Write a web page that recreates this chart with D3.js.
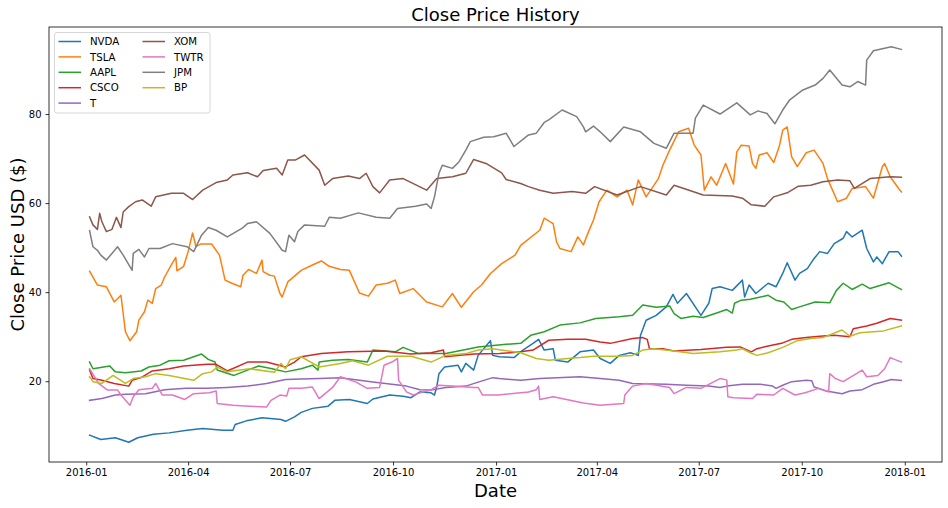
<!DOCTYPE html>
<html>
<head>
<meta charset="utf-8">
<script src="https://cdn.jsdelivr.net/npm/d3@7"></script>
<style>
  html, body { margin: 0; padding: 0; background: #fff; }
  svg { display: block; font-family: "DejaVu Sans", sans-serif; }
</style>
</head>
<body>
<div id="svg-container"></div>
<script>
// ticker names + colours (matplotlib tab10 order)
const tickers = ["NVDA", "TSLA", "AAPL", "CSCO", "T", "XOM", "TWTR", "JPM", "BP"];
const colors = ["#1f77b4", "#ff7f0e", "#2ca02c", "#d62728", "#9467bd", "#8c564b", "#e377c2", "#7f7f7f", "#bcbd22"];
const yTicks = [20, 40, 60, 80];

// close prices: [date, close]
const nvda = [["2016-01-04",7.9],["2016-01-14",6.9],["2016-01-27",7.3],["2016-02-08",6.3],["2016-02-16",7.3],["2016-03-01",8.1],["2016-03-15",8.4],["2016-03-31",9.0],["2016-04-14",9.4],["2016-05-02",9.0],["2016-05-11",9.0],["2016-05-13",10.3],["2016-05-23",11.1],["2016-06-06",11.8],["2016-06-23",11.4],["2016-06-27",11.0],["2016-07-05",12.0],["2016-07-11",13.0],["2016-07-21",13.9],["2016-08-04",14.4],["2016-08-10",15.7],["2016-08-23",15.9],["2016-09-08",15.0],["2016-09-13",16.0],["2016-09-28",16.9],["2016-10-10",16.6],["2016-10-17",16.3],["2016-10-25",17.6],["2016-11-04",17.4],["2016-11-07",16.9],["2016-11-09",18.7],["2016-11-11",21.7],["2016-11-16",23.2],["2016-11-28",23.6],["2016-12-01",22.1],["2016-12-05",24.0],["2016-12-12",22.5],["2016-12-16",25.8],["2016-12-27",29.1],["2016-12-29",25.8],["2017-01-04",25.5],["2017-01-17",25.3],["2017-01-25",27.0],["2017-02-03",28.5],["2017-02-08",29.4],["2017-02-13",27.0],["2017-02-21",27.3],["2017-02-23",24.7],["2017-03-06",24.3],["2017-03-17",26.6],["2017-03-29",27.0],["2017-04-04",25.1],["2017-04-13",24.0],["2017-04-21",25.8],["2017-05-01",26.4],["2017-05-08",25.8],["2017-05-10",30.3],["2017-05-15",33.7],["2017-05-24",34.8],["2017-06-02",36.7],["2017-06-08",39.5],["2017-06-12",37.5],["2017-06-20",39.7],["2017-07-03",34.8],["2017-07-10",37.5],["2017-07-13",40.8],["2017-07-20",41.2],["2017-07-31",40.4],["2017-08-09",42.7],["2017-08-11",38.9],["2017-08-15",41.6],["2017-08-21",39.7],["2017-09-01",42.0],["2017-09-08",41.2],["2017-09-14",44.2],["2017-09-18",46.6],["2017-09-25",42.7],["2017-09-29",44.2],["2017-10-06",45.3],["2017-10-11",47.2],["2017-10-17",49.1],["2017-10-24",48.7],["2017-10-30",50.9],["2017-11-07",52.1],["2017-11-10",53.6],["2017-11-15",52.4],["2017-11-24",53.9],["2017-11-28",49.8],["2017-12-04",46.8],["2017-12-07",47.9],["2017-12-12",46.4],["2017-12-18",49.1],["2017-12-26",49.1],["2017-12-29",48.1]];

const tsla = [["2016-01-04",44.7],["2016-01-07",43.4],["2016-01-11",41.6],["2016-01-19",41.2],["2016-01-26",37.8],["2016-02-01",39.3],["2016-02-03",35.2],["2016-02-05",31.1],["2016-02-09",29.1],["2016-02-15",31.1],["2016-02-17",33.7],["2016-02-22",35.6],["2016-02-25",38.2],["2016-02-29",37.5],["2016-03-03",40.8],["2016-03-08",41.6],["2016-03-11",43.4],["2016-03-17",46.1],["2016-03-21",47.8],["2016-03-22",44.8],["2016-03-28",45.8],["2016-04-01",49.1],["2016-04-05",53.3],["2016-04-08",50.2],["2016-04-12",50.8],["2016-04-22",50.8],["2016-04-29",48.3],["2016-05-04",42.7],["2016-05-09",42.1],["2016-05-18",41.2],["2016-05-20",43.8],["2016-05-25",45.1],["2016-06-01",44.2],["2016-06-06",47.2],["2016-06-07",44.6],["2016-06-13",43.8],["2016-06-17",43.6],["2016-06-22",39.7],["2016-06-24",38.9],["2016-06-29",42.3],["2016-07-05",43.6],["2016-07-11",44.9],["2016-07-21",46.1],["2016-07-29",47.0],["2016-08-05",45.8],["2016-08-15",45.1],["2016-08-23",44.9],["2016-09-01",39.8],["2016-09-09",39.1],["2016-09-16",41.6],["2016-09-26",42.0],["2016-10-03",42.7],["2016-10-07",39.7],["2016-10-19",40.8],["2016-10-31",37.8],["2016-11-14",36.7],["2016-11-23",39.7],["2016-12-01",36.6],["2016-12-12",40.1],["2016-12-19",41.6],["2016-12-27",44.2],["2017-01-06",46.4],["2017-01-18",48.3],["2017-01-23",50.5],["2017-02-09",53.9],["2017-02-13",56.6],["2017-02-21",55.4],["2017-02-24",51.3],["2017-02-27",49.8],["2017-03-09",49.1],["2017-03-15",52.4],["2017-03-20",50.6],["2017-03-24",53.2],["2017-03-29",56.2],["2017-04-03",60.3],["2017-04-10",62.9],["2017-04-19",61.4],["2017-04-28",62.9],["2017-05-03",59.6],["2017-05-08",65.2],["2017-05-15",61.4],["2017-05-26",65.5],["2017-05-30",68.5],["2017-06-05",71.9],["2017-06-13",76.0],["2017-06-22",76.8],["2017-06-27",73.0],["2017-07-03",70.8],["2017-07-06",62.9],["2017-07-12",65.9],["2017-07-17",64.0],["2017-07-25",68.9],["2017-08-01",64.3],["2017-08-04",71.5],["2017-08-08",73.0],["2017-08-15",72.8],["2017-08-18",68.9],["2017-08-21",67.8],["2017-08-24",70.8],["2017-08-31",71.3],["2017-09-06",69.1],["2017-09-11",72.8],["2017-09-14",76.4],["2017-09-18",77.1],["2017-09-22",70.4],["2017-09-27",68.2],["2017-10-05",71.3],["2017-10-12",71.9],["2017-10-20",68.9],["2017-10-24",65.5],["2017-11-02",60.3],["2017-11-10",61.1],["2017-11-15",63.3],["2017-11-27",63.7],["2017-12-04",61.1],["2017-12-12",68.2],["2017-12-14",68.9],["2017-12-19",65.9],["2017-12-27",63.1],["2017-12-29",62.5]];

const aapl = [["2016-01-04",24.3],["2016-01-07",22.8],["2016-01-22",23.4],["2016-01-27",22.1],["2016-02-05",21.9],["2016-02-19",22.3],["2016-02-26",23.2],["2016-03-07",23.6],["2016-03-15",24.6],["2016-03-28",24.7],["2016-04-13",26.1],["2016-04-19",24.9],["2016-04-25",24.3],["2016-04-27",22.5],["2016-05-12",21.3],["2016-05-24",22.5],["2016-06-03",23.4],["2016-06-15",22.8],["2016-06-27",22.1],["2016-07-11",22.8],["2016-07-21",23.6],["2016-07-26",22.5],["2016-07-27",24.3],["2016-08-08",24.7],["2016-08-22",24.9],["2016-09-08",24.3],["2016-09-13",27.0],["2016-10-03",26.6],["2016-10-10",27.6],["2016-10-24",26.2],["2016-11-04",26.2],["2016-11-17",26.2],["2016-12-05",27.1],["2016-12-16",27.7],["2017-01-10",28.3],["2017-01-23",28.5],["2017-02-01",30.3],["2017-02-13",31.1],["2017-02-27",32.6],["2017-03-17",33.1],["2017-03-31",34.1],["2017-04-21",34.5],["2017-05-03",34.8],["2017-05-12",37.1],["2017-05-24",36.6],["2017-06-05",36.9],["2017-06-09",35.2],["2017-06-15",34.1],["2017-06-26",34.6],["2017-07-05",34.3],["2017-07-17",35.3],["2017-07-26",36.1],["2017-07-31",35.3],["2017-08-02",37.5],["2017-08-08",38.2],["2017-08-16",38.4],["2017-09-01",39.3],["2017-09-08",38.2],["2017-09-15",37.8],["2017-09-22",36.1],["2017-09-29",36.7],["2017-10-13",37.8],["2017-10-26",37.6],["2017-11-01",40.4],["2017-11-07",42.0],["2017-11-15",40.6],["2017-11-24",41.8],["2017-12-01",40.8],["2017-12-18",42.1],["2017-12-29",40.6]];

const csco = [["2016-01-04",22.5],["2016-01-07",20.6],["2016-01-15",20.2],["2016-01-26",19.5],["2016-02-08",18.9],["2016-02-11",20.2],["2016-02-19",20.8],["2016-02-29",22.3],["2016-03-15",22.8],["2016-03-28",23.4],["2016-04-18",23.8],["2016-04-26",23.8],["2016-05-06",22.3],["2016-05-24",24.3],["2016-06-10",24.3],["2016-06-27",23.2],["2016-07-05",24.3],["2016-07-11",25.5],["2016-07-29",26.2],["2016-08-22",26.6],["2016-09-23",26.8],["2016-10-17",26.1],["2016-11-04",26.4],["2016-11-15",27.0],["2016-11-16",25.5],["2016-12-12",26.1],["2017-01-04",26.2],["2017-01-23",26.6],["2017-02-03",27.0],["2017-02-17",29.2],["2017-03-06",29.4],["2017-03-22",29.4],["2017-04-04",28.8],["2017-04-13",28.5],["2017-05-03",29.6],["2017-05-12",29.8],["2017-05-16",29.4],["2017-05-18",27.3],["2017-05-30",27.3],["2017-06-09",26.8],["2017-07-03",27.1],["2017-07-26",27.6],["2017-08-07",27.7],["2017-08-17",26.6],["2017-08-22",27.3],["2017-09-01",27.9],["2017-09-14",28.6],["2017-09-22",29.4],["2017-10-05",29.8],["2017-10-17",30.1],["2017-10-30",30.3],["2017-11-13",30.0],["2017-11-16",31.8],["2017-11-28",32.4],["2017-12-07",33.0],["2017-12-19",34.1],["2017-12-29",33.7]];

const t = [["2016-01-04",15.7],["2016-01-15",16.1],["2016-01-27",16.9],["2016-02-05",17.1],["2016-02-23",17.2],["2016-03-11",18.1],["2016-03-30",18.4],["2016-04-18",18.4],["2016-05-06",18.6],["2016-05-24",18.9],["2016-06-10",19.5],["2016-06-27",20.4],["2016-07-11",20.5],["2016-07-27",20.6],["2016-08-15",20.8],["2016-09-13",19.8],["2016-10-13",18.9],["2016-10-25",18.1],["2016-11-04",18.0],["2016-11-17",18.6],["2016-12-05",18.9],["2016-12-16",19.8],["2016-12-29",20.8],["2017-01-04",20.6],["2017-01-23",20.2],["2017-02-09",20.6],["2017-03-17",21.0],["2017-04-04",20.6],["2017-04-21",20.2],["2017-05-03",19.5],["2017-06-02",19.3],["2017-06-20",19.1],["2017-07-10",18.9],["2017-07-20",18.6],["2017-07-26",18.9],["2017-08-09",19.3],["2017-08-25",19.3],["2017-09-05",18.9],["2017-09-08",18.4],["2017-09-14",19.1],["2017-09-22",19.9],["2017-10-05",20.2],["2017-10-10",20.1],["2017-10-12",18.7],["2017-10-23",17.8],["2017-11-06",17.2],["2017-11-13",17.8],["2017-11-24",18.1],["2017-12-04",19.3],["2017-12-13",19.9],["2017-12-20",20.4],["2017-12-29",20.2]];

const xom = [["2016-01-04",56.9],["2016-01-07",55.1],["2016-01-11",54.1],["2016-01-13",57.7],["2016-01-15",55.8],["2016-01-19",53.6],["2016-01-24",54.1],["2016-01-28",56.8],["2016-02-01",54.5],["2016-02-03",58.0],["2016-02-08",59.2],["2016-02-14",60.3],["2016-02-20",60.7],["2016-02-28",59.3],["2016-03-03",61.4],["2016-03-17",62.2],["2016-03-28",62.2],["2016-04-05",60.8],["2016-04-14",62.9],["2016-04-26",64.6],["2016-05-06",65.2],["2016-05-11",66.3],["2016-05-24",66.8],["2016-06-02",65.9],["2016-06-07",67.3],["2016-06-19",67.8],["2016-06-24",66.3],["2016-06-29",69.7],["2016-07-06",69.7],["2016-07-14",70.8],["2016-07-27",67.4],["2016-08-01",64.0],["2016-08-08",65.5],["2016-08-22",66.1],["2016-09-01",65.5],["2016-09-07",66.7],["2016-09-13",63.7],["2016-09-19",62.3],["2016-09-28",65.2],["2016-10-10",65.5],["2016-10-31",62.9],["2016-11-09",65.5],["2016-11-23",65.9],["2016-12-05",66.7],["2016-12-12",69.8],["2016-12-23",68.9],["2017-01-06",66.8],["2017-01-10",65.3],["2017-01-23",64.4],["2017-01-30",63.7],["2017-02-09",62.9],["2017-02-21",62.2],["2017-03-10",62.6],["2017-03-22",62.2],["2017-03-30",63.7],["2017-04-19",61.8],["2017-05-10",63.7],["2017-06-02",61.8],["2017-06-09",64.0],["2017-07-05",61.8],["2017-07-31",61.6],["2017-08-09",61.1],["2017-08-17",59.6],["2017-08-29",59.3],["2017-09-06",61.4],["2017-09-18",62.3],["2017-09-28",63.8],["2017-10-09",64.0],["2017-10-20",64.8],["2017-11-02",65.2],["2017-11-13",65.0],["2017-11-17",63.3],["2017-12-01",65.5],["2017-12-19",65.9],["2017-12-29",65.8]];

const twtr = [["2016-01-04",22.8],["2016-01-12",19.5],["2016-01-20",18.0],["2016-01-29",18.0],["2016-02-01",16.9],["2016-02-09",14.6],["2016-02-12",16.5],["2016-02-17",18.1],["2016-02-29",18.4],["2016-03-03",19.5],["2016-03-09",16.9],["2016-03-18",16.9],["2016-03-29",15.9],["2016-04-06",17.2],["2016-04-20",17.4],["2016-04-26",17.8],["2016-04-27",15.0],["2016-05-11",14.6],["2016-05-26",14.4],["2016-06-10",14.2],["2016-06-14",15.7],["2016-06-22",16.9],["2016-06-28",16.7],["2016-06-30",18.4],["2016-07-11",18.4],["2016-07-21",18.7],["2016-07-27",16.1],["2016-08-08",18.6],["2016-08-15",21.0],["2016-08-29",19.8],["2016-09-08",18.4],["2016-09-19",18.6],["2016-09-23",23.6],["2016-09-30",24.3],["2016-10-05",25.1],["2016-10-06",20.2],["2016-10-13",17.6],["2016-10-19",16.9],["2016-10-28",17.6],["2016-11-04",18.1],["2016-11-11",19.1],["2016-11-23",18.9],["2016-12-12",18.6],["2016-12-16",18.6],["2016-12-20",16.9],["2017-01-03",16.9],["2017-01-30",17.6],["2017-02-06",18.1],["2017-02-08",18.9],["2017-02-09",15.9],["2017-02-21",16.5],["2017-03-20",15.1],["2017-04-04",14.6],["2017-04-25",15.0],["2017-04-26",16.9],["2017-05-03",18.9],["2017-05-15",19.5],["2017-06-05",18.6],["2017-06-09",17.2],["2017-06-20",18.6],["2017-07-03",18.4],["2017-07-20",20.6],["2017-07-26",20.3],["2017-07-27",16.5],["2017-08-01",16.3],["2017-08-18",16.1],["2017-08-22",17.1],["2017-09-06",16.9],["2017-09-14",18.4],["2017-09-25",16.9],["2017-10-04",17.4],["2017-10-16",18.4],["2017-10-25",17.6],["2017-10-26",21.7],["2017-10-31",20.6],["2017-11-07",19.9],["2017-11-24",22.5],["2017-11-28",21.0],["2017-12-08",21.3],["2017-12-14",22.8],["2017-12-19",25.3],["2017-12-29",24.3]];

const jpm = [["2016-01-04",53.8],["2016-01-07",50.2],["2016-01-11",49.4],["2016-01-14",48.3],["2016-01-19",47.2],["2016-01-29",50.2],["2016-02-03",48.3],["2016-02-11",44.9],["2016-02-12",48.7],["2016-02-17",49.6],["2016-02-22",47.9],["2016-02-26",49.8],["2016-03-07",49.8],["2016-03-18",50.9],["2016-03-31",50.2],["2016-04-06",49.1],["2016-04-13",52.8],["2016-04-19",54.5],["2016-04-26",53.9],["2016-05-06",52.4],["2016-05-19",54.3],["2016-05-24",55.4],["2016-06-01",55.8],["2016-06-13",53.2],["2016-06-24",49.4],["2016-06-27",49.1],["2016-06-30",52.8],["2016-07-05",51.3],["2016-07-08",53.6],["2016-07-14",55.1],["2016-08-01",54.8],["2016-08-05",56.8],["2016-08-15",56.6],["2016-08-31",57.8],["2016-09-16",56.8],["2016-09-28",56.6],["2016-10-05",58.8],["2016-10-21",59.3],["2016-10-31",59.8],["2016-11-04",58.8],["2016-11-07",61.4],["2016-11-11",66.7],["2016-11-14",68.5],["2016-11-23",67.8],["2016-11-29",69.3],["2016-12-05",71.9],["2016-12-09",73.8],["2016-12-21",74.8],["2016-12-30",74.9],["2017-01-10",75.7],["2017-01-17",72.7],["2017-01-30",75.3],["2017-02-06",75.7],["2017-02-13",78.1],["2017-02-17",78.7],["2017-03-01",80.9],["2017-03-14",79.4],["2017-03-20",77.1],["2017-03-22",76.0],["2017-03-29",77.3],["2017-04-04",76.0],["2017-04-13",73.8],["2017-04-25",77.1],["2017-05-10",76.0],["2017-05-22",73.4],["2017-06-02",72.3],["2017-06-09",75.7],["2017-06-26",75.7],["2017-06-28",79.1],["2017-07-05",82.0],["2017-07-20",80.0],["2017-08-04",82.5],["2017-08-16",79.8],["2017-08-23",80.7],["2017-08-31",80.1],["2017-09-07",77.8],["2017-09-14",80.9],["2017-09-20",83.1],["2017-10-02",85.4],["2017-10-13",86.5],["2017-10-20",88.0],["2017-10-26",89.9],["2017-11-06",86.5],["2017-11-13",86.1],["2017-11-20",87.3],["2017-11-27",86.5],["2017-11-28",92.1],["2017-12-04",94.2],["2017-12-20",95.1],["2017-12-29",94.5]];

const bp = [["2016-01-04",21.0],["2016-01-07",19.9],["2016-01-15",19.5],["2016-01-25",21.3],["2016-02-05",19.5],["2016-02-12",20.6],["2016-02-23",21.0],["2016-03-03",21.7],["2016-03-15",21.3],["2016-04-06",20.2],["2016-04-14",21.7],["2016-04-22",22.1],["2016-04-27",23.2],["2016-05-06",22.1],["2016-05-26",22.8],["2016-06-17",22.0],["2016-06-23",24.0],["2016-06-27",22.8],["2016-07-01",24.8],["2016-07-11",25.5],["2016-07-27",23.2],["2016-08-15",24.0],["2016-08-26",24.6],["2016-09-09",23.6],["2016-09-26",25.6],["2016-10-17",25.6],["2016-11-04",24.3],["2016-11-17",25.8],["2016-12-05",26.2],["2016-12-16",27.0],["2016-12-29",27.3],["2017-01-23",26.4],["2017-02-06",25.1],["2017-02-17",24.7],["2017-03-06",25.1],["2017-03-17",25.3],["2017-03-29",25.6],["2017-04-21",25.6],["2017-05-03",25.8],["2017-05-12",27.0],["2017-05-22",27.3],["2017-06-09",26.8],["2017-06-26",26.2],["2017-07-20",26.6],["2017-08-04",27.0],["2017-08-09",27.3],["2017-08-16",26.4],["2017-08-22",25.8],["2017-09-01",26.4],["2017-09-14",27.6],["2017-09-27",29.1],["2017-10-09",29.6],["2017-10-20",29.8],["2017-11-02",31.1],["2017-11-06",31.5],["2017-11-13",30.1],["2017-11-22",30.9],["2017-12-13",31.3],["2017-12-29",32.4]];

const seriesValues = [nvda, tsla, aapl, csco, t, xom, twtr, jpm, bp];

////////////////////////////  Init  ///////////////////////////////
const width = 948;
const height = 508;
const margin = { top: 27, right: 6, bottom: 46, left: 49 };

const svg = d3.select("#svg-container").append("svg")
  .attr("width", width)
  .attr("height", height);

const parseTime = d3.timeParse("%Y-%m-%d");
const formatXAxis = d3.timeFormat("%Y-%m");

const series = tickers.map((name, i) => ({
  name: name,
  color: colors[i],
  values: seriesValues[i].map((d) => ({ date: parseTime(d[0]), close: d[1] }))
}));

const allPoints = series.flatMap((s) => s.values);

// matplotlib style 5% margins
const xExt = d3.extent(allPoints, (d) => d.date);
const xPad = (xExt[1] - xExt[0]) * 0.05;
const yExt = d3.extent(allPoints, (d) => d.close);
const yPad = (yExt[1] - yExt[0]) * 0.05;

const xScale = d3.scaleTime()
  .domain([new Date(+xExt[0] - xPad), new Date(+xExt[1] + xPad)])
  .range([margin.left, width - margin.right]);
const yScale = d3.scaleLinear()
  .domain([yExt[0] - yPad, yExt[1] + yPad])
  .range([height - margin.bottom, margin.top]);

// axes
const xAxis = d3.axisBottom(xScale)
  .ticks(d3.timeMonth.every(3))
  .tickFormat(formatXAxis)
  .tickSize(3.5)
  .tickPadding(3.5)
  .tickSizeOuter(0);

const yAxis = d3.axisLeft(yScale)
  .tickValues(yTicks)
  .tickSize(3.5)
  .tickPadding(4)
  .tickSizeOuter(0);

const gx = svg.append("g")
  .attr("class", "x-axis")
  .attr("transform", `translate(0, ${height - margin.bottom})`)
  .call(xAxis);

const gy = svg.append("g")
  .attr("class", "y-axis")
  .attr("transform", `translate(${margin.left},0)`)
  .call(yAxis);

[gx, gy].forEach((g) => {
  g.select(".domain").remove();
  g.attr("font-family", "DejaVu Sans").attr("font-size", 10);
  g.selectAll(".tick line").attr("stroke", "#000").attr("stroke-width", 0.8);
  g.selectAll(".tick text").attr("fill", "#000");
});

// lines
const line = d3.line()
  .x((d) => xScale(d.date))
  .y((d) => yScale(d.close));

svg.append("g")
  .selectAll("path")
  .data(series)
  .join("path")
  .attr("d", (d) => line(d.values))
  .attr("fill", "none")
  .attr("stroke", (d) => d.color)
  .attr("stroke-width", 1.5)
  .attr("stroke-linejoin", "round")
  .attr("stroke-linecap", "square");

// frame
svg.append("rect")
  .attr("x", margin.left)
  .attr("y", margin.top)
  .attr("width", width - margin.left - margin.right)
  .attr("height", height - margin.top - margin.bottom)
  .attr("fill", "none")
  .attr("stroke", "#000")
  .attr("stroke-width", 0.8);

// titles
svg.append("text")
  .attr("x", (margin.left + width - margin.right) / 2)
  .attr("y", 21)
  .attr("text-anchor", "middle")
  .attr("font-size", 18)
  .text("Close Price History");

svg.append("text")
  .attr("x", (margin.left + width - margin.right) / 2)
  .attr("y", 497)
  .attr("text-anchor", "middle")
  .attr("font-size", 18)
  .text("Date");

svg.append("text")
  .attr("transform", `translate(23.5, ${(margin.top + height - margin.bottom) / 2}) rotate(-90)`)
  .attr("text-anchor", "middle")
  .attr("font-size", 18)
  .text("Close Price USD ($)");

// legend (2 columns, 5 rows)
const legend = svg.append("g").attr("class", "legend");
legend.append("rect")
  .attr("x", 54.5)
  .attr("y", 32.5)
  .attr("width", 155.5)
  .attr("height", 80.5)
  .attr("rx", 2.5)
  .attr("fill", "#fff")
  .attr("fill-opacity", 0.8)
  .attr("stroke", "#cccccc")
  .attr("stroke-width", 0.8);

const items = legend.selectAll("g.item")
  .data(series)
  .join("g")
  .attr("class", "item")
  .attr("transform", (d, i) => `translate(${i < 5 ? 58.5 : 142.5}, ${41.5 + (i % 5) * 15.4})`);

items.append("line")
  .attr("x1", 0)
  .attr("x2", 22.5)
  .attr("stroke", (d) => d.color)
  .attr("stroke-width", 1.5);

items.append("text")
  .attr("x", 31.5)
  .attr("y", 3.6)
  .attr("font-size", 10.2)
  .text((d) => d.name);
</script>
</body>
</html>
